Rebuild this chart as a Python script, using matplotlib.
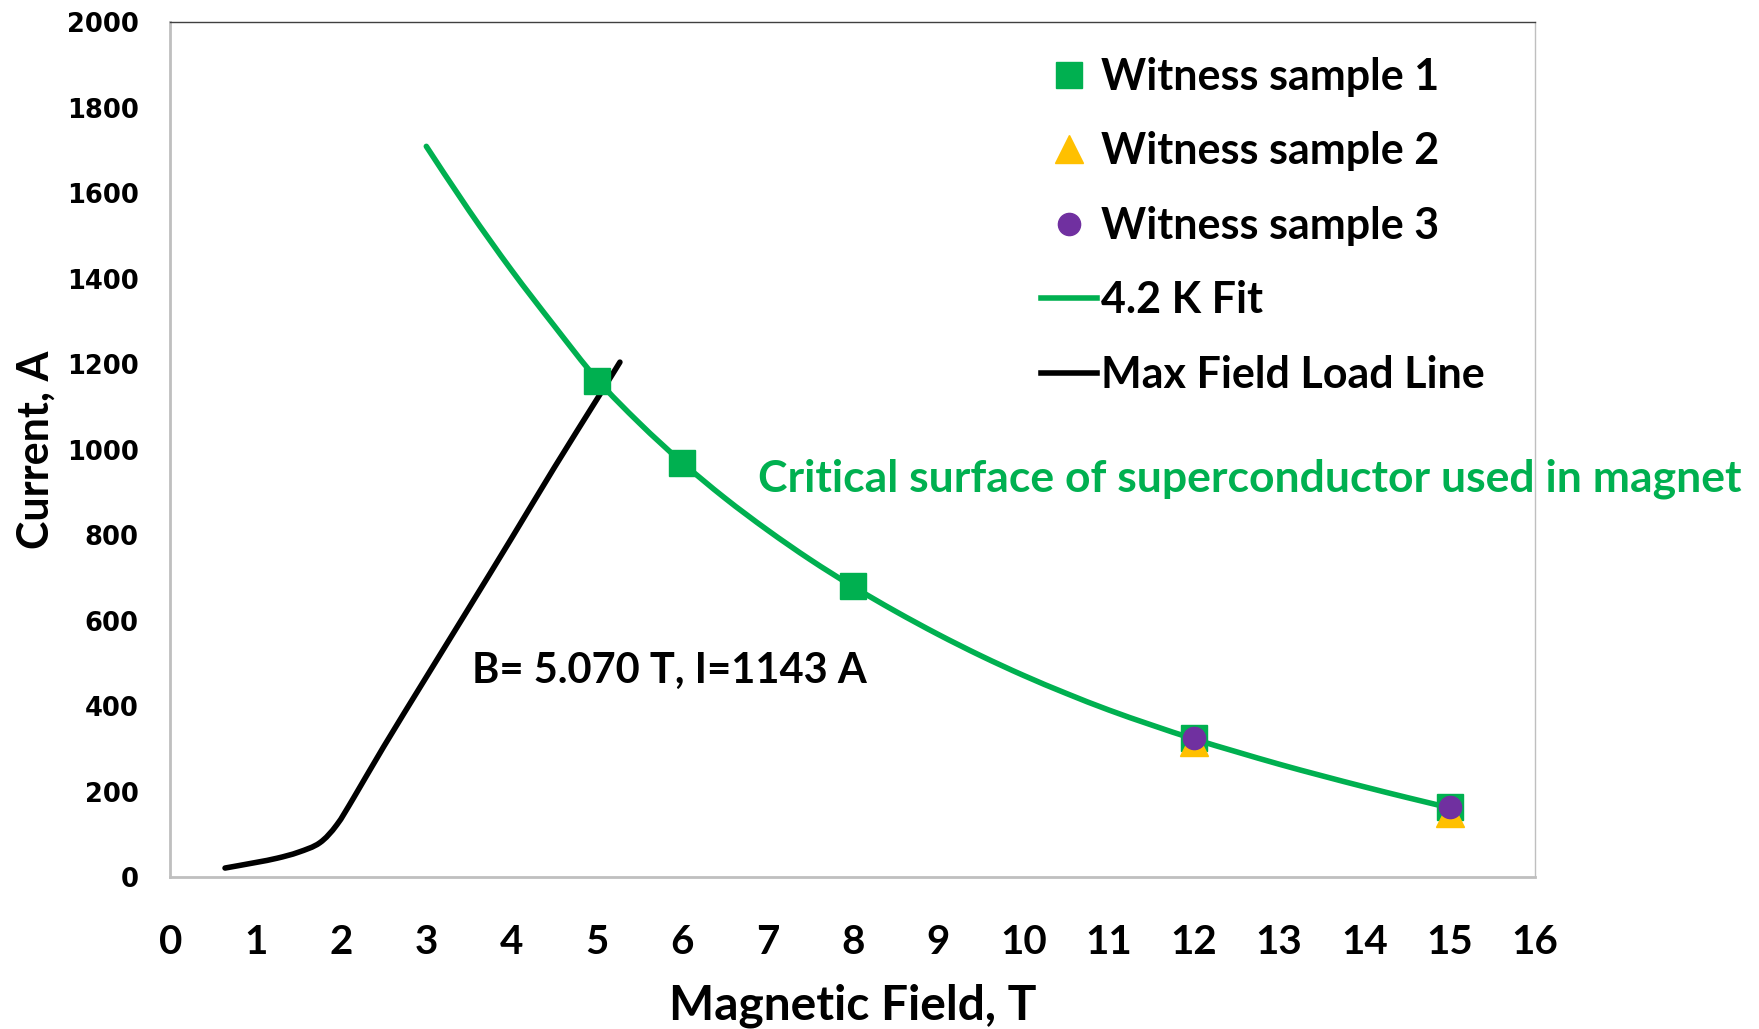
import matplotlib.pyplot as plt
from matplotlib.lines import Line2D
from matplotlib.path import Path
from matplotlib.patches import PathPatch

FONT = 'Lato'
GREEN = '#00B050'
YELLOW = '#FFC000'
PURPLE = '#7030A0'

# witness sample measurements (field T, current A)
s1_field = [5, 6, 8, 12, 15]
s1_current = [1160, 970, 680, 325, 165]
s2_field = [12, 15]
s2_current = [315, 150]
s3_field = [12, 15]
s3_current = [325, 165]

# 4.2 K fit curve
fit_field = [3.0, 3.5, 4.0, 4.5, 5.0, 5.5, 6.0, 6.5, 7.0, 7.5, 8.0, 8.5, 9.0,
             9.5, 10.0, 10.5, 11.0, 11.5, 12.0, 12.5, 13.0, 13.5, 14.0, 14.5,
             15.0]
fit_current = [1710, 1560, 1420, 1290, 1165, 1062, 970, 887, 812, 743, 680,
               622, 568, 518, 472, 430, 391, 356, 323, 293, 264, 237, 211,
               186, 162]

# max field load line
load_field = [0.64, 1.0, 1.25, 1.5, 1.75, 1.95, 2.15, 2.5, 3.0, 3.5, 4.0,
              4.5, 5.0, 5.27]
load_current = [21, 34, 44, 58, 80, 122, 186, 305, 468, 630, 793, 958, 1118,
                1205]

x_ticks = list(range(0, 17))
y_ticks = list(range(0, 2001, 200))


def smooth_path(xs, ys):
    # Excel style smoothed line: Catmull-Rom segments as cubic Beziers
    verts = [(xs[0], ys[0])]
    codes = [Path.MOVETO]
    n = len(xs)
    for i in range(n - 1):
        x0, y0 = xs[max(i - 1, 0)], ys[max(i - 1, 0)]
        x1, y1 = xs[i], ys[i]
        x2, y2 = xs[i + 1], ys[i + 1]
        x3, y3 = xs[min(i + 2, n - 1)], ys[min(i + 2, n - 1)]
        c1 = (x1 + (x2 - x0) / 6, y1 + (y2 - y0) / 6)
        c2 = (x2 - (x3 - x1) / 6, y2 - (y3 - y1) / 6)
        verts += [c1, c2, (x2, y2)]
        codes += [Path.CURVE4] * 3
    return Path(verts, codes)


fig = plt.figure(figsize=(17.59, 10.29), dpi=100)
ax = fig.add_axes([0.0969, 0.1477, 0.8727 - 0.0969, 0.9782 - 0.1477])

ax.add_patch(PathPatch(smooth_path(fit_field, fit_current), facecolor='none',
                       edgecolor=GREEN, linewidth=4, capstyle='round',
                       zorder=2))
ax.add_patch(PathPatch(smooth_path(load_field, load_current), facecolor='none',
                       edgecolor='black', linewidth=4, capstyle='round',
                       zorder=2))
ax.plot(s1_field, s1_current, 's', color=GREEN, markersize=19, zorder=3)
ax.plot(s2_field, s2_current, '^', color=YELLOW, markersize=20, zorder=4)
ax.plot(s3_field, s3_current, 'o', color=PURPLE, markersize=16, zorder=5)

ax.text(3.53, 483, 'B= 5.070 T, I=1143 A', fontsize=30, fontweight='bold',
        family=FONT, ha='left', va='center')
ax.text(6.89, 932, 'Critical surface of superconductor used in magnet',
        fontsize=32, fontweight='bold', family=FONT, color=GREEN,
        ha='left', va='center', clip_on=False)

ax.set_xlim(0, 16)
ax.set_ylim(0, 2000)
ax.set_xticks(x_ticks)
ax.set_yticks(y_ticks)
ax.tick_params(axis='both', length=0)
ax.tick_params(axis='x', pad=34)
ax.tick_params(axis='y', pad=23)
for label in ax.get_xticklabels():
    label.set_fontfamily(FONT)
    label.set_fontweight('bold')
    label.set_fontsize(29)
for label in ax.get_yticklabels():
    label.set_fontfamily('DejaVu Sans')
    label.set_fontweight('bold')
    label.set_fontsize(18.5)

ax.set_xlabel('Magnetic Field, T', fontsize=34.5, fontweight='bold',
              family=FONT, labelpad=16)
ax.set_ylabel('Current, A', fontsize=31, fontweight='bold',
              family=FONT, labelpad=8)

for side in ('left', 'bottom'):
    ax.spines[side].set_color('#BFBFBF')
    ax.spines[side].set_linewidth(2)
ax.spines['right'].set_color('#BFBFBF')
ax.spines['right'].set_linewidth(1)
ax.spines['top'].set_color('#404040')
ax.spines['top'].set_linewidth(1)

handles = [
    Line2D([], [], linestyle='none', marker='s', color=GREEN, markersize=19),
    Line2D([], [], linestyle='none', marker='^', color=YELLOW, markersize=20),
    Line2D([], [], linestyle='none', marker='o', color=PURPLE, markersize=16),
    Line2D([], [], color=GREEN, linewidth=4),
    Line2D([], [], color='black', linewidth=4),
]
labels = ['Witness sample 1', 'Witness sample 2', 'Witness sample 3',
          '4.2 K Fit', 'Max Field Load Line']
ax.legend(handles, labels, loc='upper left', bbox_to_anchor=(0.6095, 1.005),
          frameon=False, prop={'family': FONT, 'weight': 'bold', 'size': 31},
          handlelength=1.3, handletextpad=0.1, labelspacing=0.8)

fig.savefig('out.png', dpi=100)
